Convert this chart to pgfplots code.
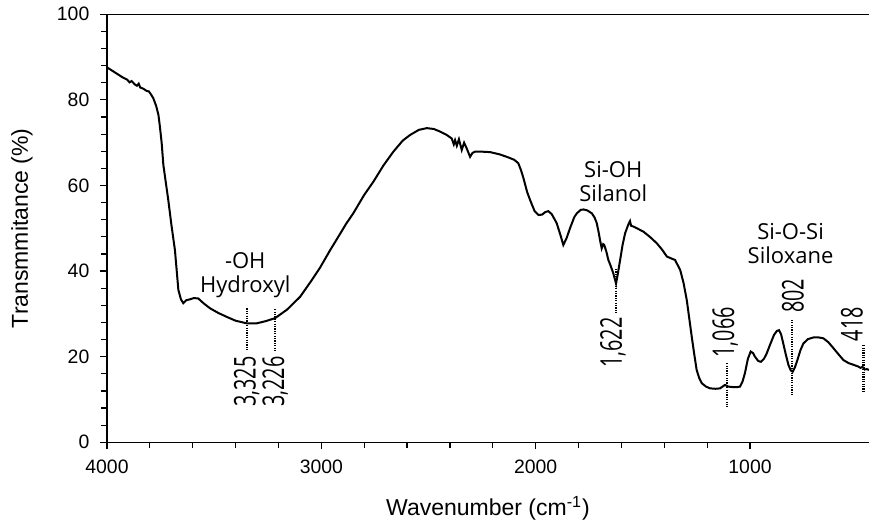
\documentclass[border=0pt]{standalone}
\usepackage{fontspec}
\setmainfont{Liberation Sans}
\newfontfamily\annfont{Open Sans}
\newfontfamily\numfont[FakeStretch=0.66]{Open Sans}
\usepackage{pgfplots}
\pgfplotsset{compat=1.18}
\pgfplotstableread{
w T
4000 87.6
3975 86.8
3950 86.0
3925 85.2
3905 84.7
3895 84.1
3885 84.4
3870 83.6
3860 83.3
3852 83.8
3845 82.9
3830 82.6
3815 82.1
3805 82.0
3795 81.3
3784 80.4
3770 78.5
3760 76.5
3753 73.7
3745 70.0
3737 64.8
3725 60.5
3714 56.6
3700 51.0
3683 44.9
3667 35.6
3655 33.4
3644 32.5
3630 33.2
3613 33.4
3595 33.7
3574 33.6
3550 32.5
3519 31.3
3480 30.2
3441 29.3
3400 28.4
3348 27.8
3301 27.8
3260 28.3
3216 29.0
3160 31.0
3099 34.0
3050 37.5
3006 40.8
2960 44.8
2921 48.0
2885 51.0
2851 53.5
2800 57.8
2757 60.9
2710 64.7
2664 67.9
2620 70.5
2586 71.8
2545 73.0
2508 73.4
2475 73.2
2446 72.6
2415 71.8
2392 71.0
2382 69.6
2376 70.6
2368 69.3
2358 70.8
2345 68.3
2334 70.0
2322 68.7
2306 66.7
2295 67.6
2283 67.9
2250 67.9
2213 67.8
2170 67.3
2135 66.7
2100 66.0
2081 65.2
2068 63.5
2057 61.7
2040 58.5
2026 56.6
2005 54.0
1987 53.1
1970 53.2
1955 53.8
1941 54.0
1925 53.3
1902 51.2
1885 48.5
1871 46.1
1855 47.8
1840 50.0
1820 52.6
1808 53.5
1790 54.3
1777 54.4
1760 54.2
1738 53.5
1725 52.5
1715 51.2
1706 49.0
1700 47.3
1692 45.3
1685 46.3
1680 46.1
1670 44.5
1661 42.6
1650 41.2
1638 39.5
1630 38.0
1625 37.1
1618 39.0
1606 42.6
1595 46.0
1583 48.8
1567 51.0
1560 51.7
1555 50.6
1544 50.4
1520 49.8
1497 49.2
1465 47.9
1435 46.5
1410 45.0
1388 43.4
1365 42.9
1350 42.6
1326 40.3
1310 37.2
1295 33.2
1285 29.5
1272 24.7
1260 20.5
1249 16.9
1237 15.0
1225 13.8
1205 13.0
1186 12.6
1160 12.5
1140 12.6
1117 13.4
1100 13.0
1080 12.9
1060 12.9
1047 13.0
1035 14.2
1024 16.1
1010 19.5
997 21.2
985 20.8
977 20.0
962 19.0
949 18.8
935 19.5
922 20.8
905 23.0
888 25.1
875 26.0
865 26.2
855 25.2
845 23.1
833 20.5
821 18.1
810 16.8
801 16.5
790 17.6
779 19.2
765 21.5
751 23.1
730 24.1
704 24.5
680 24.5
658 24.3
635 23.4
611 22.0
588 20.6
564 19.2
540 18.5
517 18.1
495 17.7
485 17.4
475 17.6
465 17.0
455 17.1
445 16.9
}\spectrum
\begin{document}
\begin{tikzpicture}
\begin{axis}[
  at={(0,0)}, anchor=south west,
  scale only axis, width=381pt, height=214pt,
  x dir=reverse, xmin=445, xmax=4000, ymin=0, ymax=100,
  axis x line*=box, axis y line*=left,
  xtick={1000,2000,3000,4000}, ytick={0,20,40,60,80,100},
  minor x tick num=4, minor y tick num=4,
  xtick pos=bottom, ytick pos=left, tick align=outside,
  major tick length=3.5pt, minor tick length=2.8pt,
  every tick/.style={black, line width=0.6pt},
  axis line style={black, line width=0.7pt},
  /pgf/number format/assume math mode=true,
  /pgf/number format/1000 sep={},
  ticklabel style={font=\fontsize{9.7}{11}\selectfont},
  xticklabel style={yshift=-2pt},
  yticklabel style={xshift=-1.8pt},
  xlabel={Wavenumber (cm\textsuperscript{-1})},
  ylabel={Transmmitance (\%)},
  label style={font=\fontsize{11.5}{13}\selectfont},
  xlabel style={at={(rel axis cs:0.5,0)}, anchor=center, yshift=-33pt},
  ylabel style={at={(rel axis cs:0,0.5)}, anchor=center, rotate=0, yshift=42.5pt},
  clip=false,
]
\addplot[black, line width=1pt] table[x=w, y=T] {\spectrum};

\begin{scope}[every path/.style={black, line width=1.1pt, dash pattern=on 0.6pt off 0.6pt}]
\draw (axis cs:3348,31.3) -- (axis cs:3348,21.5);
\draw (axis cs:3215,31.1) -- (axis cs:3215,21.4);
\draw (axis cs:1627,40.5) -- (axis cs:1627,30.3);
\draw (axis cs:1107,18.5) -- (axis cs:1107,8.3);
\draw (axis cs:805,28.6) -- (axis cs:805,11.0);
\draw (axis cs:471,22.7) -- (axis cs:471,11.8);
\end{scope}

\begin{scope}[every node/.style={font=\annfont\fontsize{11}{12}\selectfont, align=center, inner sep=0pt}]
\node at (axis cs:3355,39.0) {-OH\\Hydroxyl};
\node at (axis cs:1638,60.85) {Si-OH\\Silanol};
\node at (axis cs:811,46.5) {Si-O-Si\\Siloxane};
\end{scope}

\begin{scope}[every node/.style={font=\numfont\fontsize{15}{16}\selectfont, rotate=90, inner sep=0pt}]
\node at (axis cs:3348,14.2) {3,325};
\node at (axis cs:3215,14.2) {3,226};
\node at (axis cs:1639,23.3) {1,622};
\node at (axis cs:1116,25.7) {1,066};
\node at (axis cs:800,34.2) {802};
\node at (axis cs:525,27.6) {418};
\end{scope}
\end{axis}
\pgfresetboundingbox
\useasboundingbox (-53.5pt,-40.35pt) rectangle (381pt,221.15pt);
\end{tikzpicture}
\end{document}
